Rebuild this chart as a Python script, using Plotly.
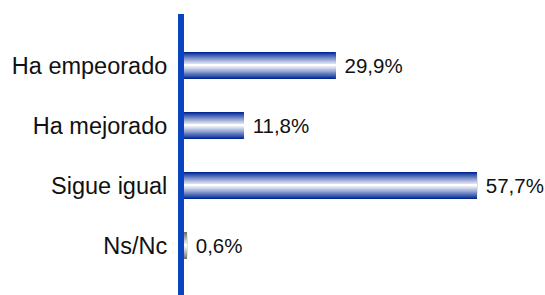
import plotly.graph_objects as go

categories = ["Ha empeorado", "Ha mejorado", "Sigue igual", "Ns/Nc"]
values = [29.9, 11.8, 57.7, 0.6]
labels = [" " + f"{v:.1f}%".replace(".", ",") for v in values]

def lerp(c1, c2, t):
    return "rgb(%d,%d,%d)" % tuple(round(a + (b - a) * t) for a, b in zip(c1, c2))

blue_dark = (0, 40, 150)
grey_dark = (110, 110, 110)
white = (255, 255, 255)

fig = go.Figure()
n = 12
full_w = 0.45
for i in range(n):
    t = i / (n - 1)
    w = full_w * (1 - t) + 0.02 * t
    tc = t ** 0.9
    cols = [lerp(grey_dark if c == "Ns/Nc" else blue_dark, white, tc) for c in categories]
    fig.add_trace(go.Bar(
        y=categories, x=values, orientation="h", width=w,
        marker=dict(color=cols, line=dict(width=0)),
        text=labels if i == 0 else None,
        textposition="outside" if i == 0 else "none",
        constraintext="none",
        textfont=dict(size=20.5, color="#111111", family="Liberation Sans, Arial"),
        cliponaxis=False, showlegend=False, hoverinfo="skip",
    ))

fig.update_layout(
    width=545, height=295,
    margin=dict(l=184, r=5, t=14, b=0, autoexpand=False),
    barmode="overlay",
    plot_bgcolor="white", paper_bgcolor="white",
    font=dict(family="Liberation Sans, Arial", size=21, color="#111111"),
    xaxis=dict(range=[0, 70.1], showgrid=False, zeroline=False, showticklabels=False,
               showline=False, automargin=False),
    yaxis=dict(autorange=False, range=[3.825, -0.858], type="category",
               categoryorder="array", categoryarray=categories,
               showgrid=False, zeroline=False, showline=True, linewidth=6,
               linecolor="#0a44c0", ticks="", ticklabelstandoff=6, automargin=False,
               tickfont=dict(size=23.5, color="#111111", family="Liberation Sans, Arial")),
)

fig.write_html("out.html", config={"displayModeBar": False},
               post_script="document.body.style.margin='0';document.body.style.overflow='hidden';")
